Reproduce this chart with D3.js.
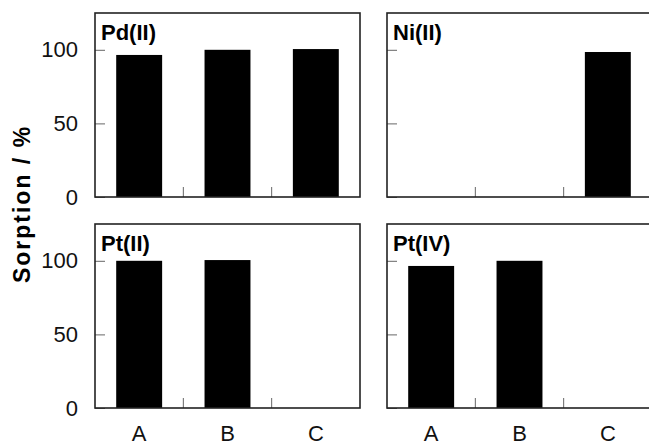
<!DOCTYPE html>
<html>
<head>
<meta charset="utf-8">
<script src="https://cdn.jsdelivr.net/npm/d3@7"></script>
<style>
  body { margin: 0; background: #fff; }
  text { font-family: "Liberation Sans", Arial, Helvetica, sans-serif; }
</style>
</head>
<body>
<div id="chart"></div>
<script>
// data
var categories = ['A', 'B', 'C'];
var metals = ['Pd(II)', 'Ni(II)', 'Pt(II)', 'Pt(IV)'];
var pd2 = [96.5, 100, 100.5];
var ni2 = [0, 0, 98.5];
var pt2 = [100, 100.5, 0];
var pt4 = [96.5, 100, 0];
var y_ticks = [0, 50, 100];
var series = [pd2, ni2, pt2, pt4];

var W = 649, H = 445;
var svg = d3.select('#chart').append('svg').attr('width', W).attr('height', H);

var pw = 265, ph = 184;
var col_x = [95, 387], row_y = [13, 224];

var x_scale = d3.scaleBand().domain(categories).range([0, pw]).paddingInner(0.48).paddingOuter(0.24);
var y_scale = d3.scaleLinear().domain([0, 125]).range([ph, 0]);

metals.forEach(function(name, i) {
    var col = i % 2, row = Math.floor(i / 2);
    var g = svg.append('g').attr('transform', 'translate(' + col_x[col] + ',' + row_y[row] + ')');
    var vals = series[i];

    // bars
    g.selectAll('rect.bar').data(vals).enter().append('rect').attr('class', 'bar')
        .attr('x', (d, k) => x_scale(categories[k]))
        .attr('y', d => y_scale(d))
        .attr('width', x_scale.bandwidth())
        .attr('height', d => ph - y_scale(d))
        .attr('fill', '#000');

    // y axis, ticks pointing inward
    var ya = g.append('g').call(d3.axisLeft(y_scale).tickValues(y_ticks).tickSize(-10).tickPadding(17)
        .tickFormat(col == 0 ? d3.format('d') : ''));
    ya.select('.domain').remove();
    ya.selectAll('line').attr('stroke', '#666');
    ya.selectAll('text').style('font-size', '22px').attr('fill', '#111');

    // x tick marks between categories
    var step = x_scale.step();
    var bounds = categories.slice(1).map(c => x_scale(c) - step * x_scale.paddingInner() / 2);
    g.selectAll('line.xt').data(bounds).enter().append('line').attr('class', 'xt')
        .attr('x1', d => d).attr('x2', d => d).attr('y1', ph).attr('y2', ph - 10)
        .attr('stroke', '#666');

    if (row == 1) {
        var xa = g.append('g').attr('transform', 'translate(0,' + ph + ')')
            .call(d3.axisBottom(x_scale).tickSize(0).tickPadding(17));
        xa.select('.domain').remove();
        xa.selectAll('text').style('font-size', '22px').attr('fill', '#111');
    }

    // frame
    g.append('rect').attr('width', pw).attr('height', ph)
        .attr('fill', 'none').attr('stroke', '#222').attr('stroke-width', 1.6);

    g.append('text').text(name).attr('x', 6).attr('y', 27)
        .style('font-size', '22px').style('font-weight', 'bold').attr('fill', '#000');
});

svg.append('text').text('Sorption / %')
    .attr('transform', 'translate(30,204) rotate(-90)')
    .attr('text-anchor', 'middle')
    .style('font-size', '23px').style('font-weight', 'bold').style('letter-spacing', '2px')
    .attr('fill', '#000');
</script>
</body>
</html>
